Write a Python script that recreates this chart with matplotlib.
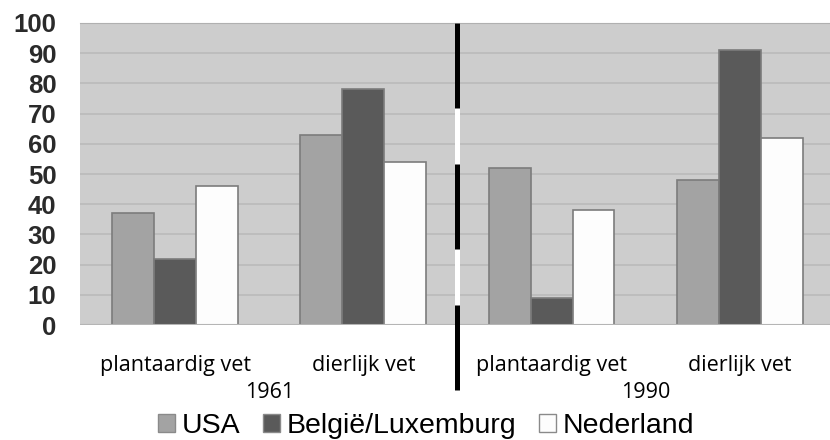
import matplotlib.pyplot as plt
from matplotlib.patches import Patch
import numpy as np

categories = ['plantaardig vet', 'dierlijk vet', 'plantaardig vet', 'dierlijk vet']
years = ['1961', '1990']
series = ['USA', 'België/Luxemburg', 'Nederland']
usa = [37, 63, 52, 48]
belgie = [22, 78, 9, 91]
nederland = [46, 54, 38, 62]
colors = ['#a3a3a3', '#5a5a5a', '#fdfdfd']

fig = plt.figure(figsize=(8.3, 4.4), dpi=100)
ax = fig.add_axes([80 / 830, 115 / 440, 752 / 830, 302 / 440])
ax.set_facecolor('#cdcdcd')

x = np.arange(len(categories))
w = 0.223
for i, (vals, c) in enumerate(zip([usa, belgie, nederland], colors)):
    ax.bar(x + (i - 1) * w, vals, w, color=c, edgecolor='#7c7c7c', linewidth=1.2, zorder=3)

ax.set_ylim(0, 100)
ax.set_xlim(-0.505, 3.49)
ax.set_yticks(range(0, 101, 10))
ax.yaxis.grid(True, color='#bababa', linewidth=1.2, zorder=0)
ax.set_xticks([])
ax.tick_params(axis='y', length=0, pad=17)
for lab in ax.get_yticklabels():
    lab.set_fontfamily('Liberation Sans')
    lab.set_fontsize(18.5)
    lab.set_fontweight('bold')
    lab.set_color('#2a2a2a')
for s in ['left', 'right', 'bottom']:
    ax.spines[s].set_visible(False)
ax.spines['top'].set_color('#b0b0b0')
ax.axhline(0, color='#b5b5b5', linewidth=1.5, zorder=4)

# category and year labels
for xi, cat in zip(x, categories):
    ax.text(xi, -13.4, cat, ha='center', va='center', family='Open Sans', fontsize=15.5,
            clip_on=False)
for k, yr in enumerate(years):
    ax.text(2 * k + 0.5, -22.3, yr, ha='center', va='center', family='Open Sans', fontsize=15.5,
            clip_on=False)

# dashed divider between the two years
ax.plot([1.5, 1.5], [100, -21.5], color='white', linewidth=3.6, clip_on=False, zorder=5,
        solid_capstyle='butt')
for y0, y1 in [(100, 72), (53.3, 25.2), (6.6, -21.5)]:
    ax.plot([1.5, 1.5], [y0, y1], color='black', linewidth=3.6, clip_on=False, zorder=6,
            solid_capstyle='butt')

handles = [Patch(facecolor=c, edgecolor='#8a8a8a', linewidth=1) for c in colors]
fig.legend(handles, series, ncol=3, loc='center', bbox_to_anchor=(426 / 830, 1 - 426 / 440),
           frameon=False, handlelength=0.6, handleheight=0.6, handletextpad=0.22,
           columnspacing=0.8, prop={'family': 'Liberation Sans', 'size': 20.5})

fig.savefig('out.png', dpi=100)
